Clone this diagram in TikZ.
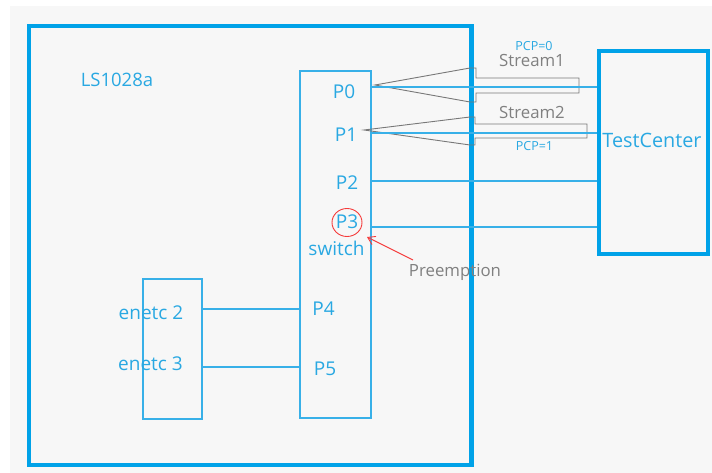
\documentclass[tikz,border=0pt]{standalone}
\usepackage{fontspec}
\setmainfont{Open Sans}
\usetikzlibrary{arrows.meta,shapes.geometric}
\definecolor{bluetext}{RGB}{41,168,226}
\definecolor{boxblue}{RGB}{0,162,232}
\definecolor{lineblue}{RGB}{56,176,232}
\definecolor{bggrey}{RGB}{247,247,247}
\definecolor{arrowgrey}{RGB}{120,120,120}
\definecolor{textgrey}{RGB}{128,128,128}
\definecolor{redmark}{RGB}{245,60,60}
\tikzset{
  lbl/.style={text=bluetext, inner sep=0pt, anchor=base, font=\fontsize{19}{22}\selectfont},
  smalllbl/.style={text=bluetext, inner sep=0pt, anchor=base, font=\fontsize{12.5}{15}\selectfont},
  greylbl/.style={text=textgrey, inner sep=0pt, anchor=base, font=\fontsize{16.8}{19}\selectfont},
  thickbox/.style={draw=boxblue, line width=4.5pt, inner sep=0pt, anchor=north west},
  thinbox/.style={draw=lineblue, line width=1.6pt, inner sep=0pt, anchor=north west},
  link/.style={draw=lineblue, line width=1.6pt},
  hollow/.style={draw=arrowgrey, line width=0.9pt, line join=miter}
}
\begin{document}
\begin{tikzpicture}[x=1pt,y=-1pt]
\useasboundingbox (0,0) rectangle (712,473);
\fill[white] (0,0) rectangle (712,473);
\fill[bggrey] (10,6) rectangle (712,473);

% boxes
\node[thickbox, minimum width=442.5pt, minimum height=438.5pt] (ls) at (26.5,24) {};
\node[thinbox, minimum width=71pt, minimum height=347pt] (sw) at (299,70) {};
\node[thinbox, minimum width=59pt, minimum height=140pt] (en) at (142,278) {};
\node[thickbox, line width=3.8pt, minimum width=109pt, minimum height=203pt] (tc) at (597,49) {};

% hollow arrows
\draw[hollow] (375,85) -- (470,68) -- (476,68) -- (476,78) -- (579,78) -- (579,93)
  -- (476,93) -- (476,102) -- (470,102) -- cycle;
\draw[hollow] (364,130) -- (470,117) -- (475,117) -- (475,124) -- (587,124) -- (587,138)
  -- (475,138) -- (475,145) -- (470,145) -- cycle;

% port coordinates and links
\coordinate (p0) at (370,87);
\coordinate (p1) at (370,133);
\coordinate (p2) at (370,181);
\coordinate (p3) at (370,227);
\coordinate (e2) at (201,309);
\coordinate (e3) at (201,367);
\draw[link] (p0) -- (p0 -| tc.west);
\draw[link] (p1) -- (p1 -| tc.west);
\draw[link] (p2) -- (p2 -| tc.west);
\draw[link] (p3) -- (p3 -| tc.west);
\draw[link] (e2) -- (e2 -| sw.west);
\draw[link] (e3) -- (e3 -| sw.west);

% labels
\node[lbl, font=\fontsize{18.5}{22}\selectfont] (lslbl) at (117,87) {LS1028a};
\node[lbl] (lp0) at (344,99) {P0};
\node[lbl] (lp1) at (346,142) {P1};
\node[lbl] (lp2) at (347,190) {P2};
\node[lbl] (lp3) at (347,229) {P3};
\node[lbl] (lsw) at (336.5,255) {switch};
\node[lbl] (lp4) at (323.5,315) {P4};
\node[lbl] (lp5) at (325,375) {P5};
\node[lbl] (le2) at (151,319) {enetc 2};
\node[lbl] (le3) at (150.5,370) {enetc 3};
\node[lbl, font=\fontsize{19.8}{22}\selectfont] (ltc) at (652,148) {TestCenter};
\node[greylbl] (ls1) at (532,67) {Stream1};
\node[greylbl] (ls2) at (532,119) {Stream2};
\node[smalllbl] (pcp0) at (534,51) {PCP=0};
\node[smalllbl] (pcp1) at (534.5,151) {PCP=1};
\node[greylbl] (pre) at (455,276) {Preemption};

% preemption marker
\node[draw=redmark, line width=0.9pt, ellipse, minimum width=30pt, minimum height=28pt, inner sep=0pt] (ring) at (347,222.5) {};
\coordinate (pretail) at (413,260);
\coordinate (pretip) at (367,237);
\draw[redmark, line width=0.9pt, -{Straight Barb[length=7pt,width=9pt]}] (pretail) -- (pretip);
\end{tikzpicture}
\end{document}
